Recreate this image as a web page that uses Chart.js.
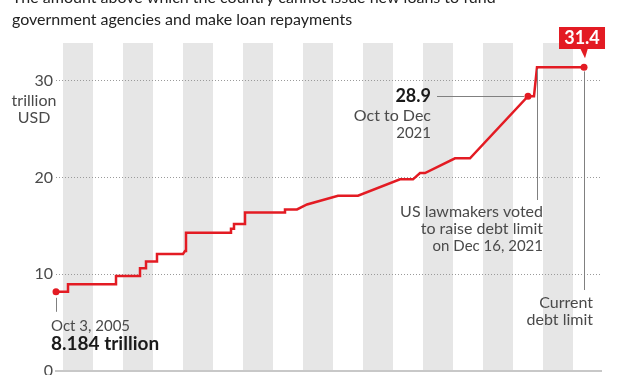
<!DOCTYPE html>
<html>
<head>
<meta charset="utf-8">
<script src="https://cdn.jsdelivr.net/npm/chart.js@4/dist/chart.umd.min.js"></script>
<style>
    html, body { margin: 0; padding: 0; background: #fff; }
</style>
</head>
<body>
<canvas id="graficoDeuda" width="625" height="375"></canvas>
<script>
// Limite de deuda de EE.UU., billones de USD (fechas en anos decimales)
const fechas = [2005.767, 2006.167, 2006.167, 2007.767, 2007.767, 2008.567, 2008.567, 2008.767, 2008.767,
    2009.133, 2009.133, 2010.0, 2010.067, 2010.1, 2010.1, 2011.6, 2011.6, 2011.7, 2011.7, 2012.067, 2012.067,
    2013.4, 2013.4, 2013.8, 2014.133, 2015.167, 2015.833, 2017.233, 2017.667, 2017.9, 2018.067, 2019.067,
    2019.567, 2021.5, 2021.7, 2021.8, 2023.367];
const limite = [8.184, 8.184, 8.965, 8.965, 9.815, 9.815, 10.615, 10.615, 11.315,
    11.315, 12.104, 12.104, 12.394, 12.394, 14.294, 14.294, 14.694, 14.694, 15.194, 15.194, 16.394,
    16.394, 16.699, 16.699, 17.212, 18.113, 18.113, 19.809, 19.809, 20.456, 20.456, 21.988,
    21.988, 28.4, 28.4, 31.381, 31.381];
const puntosMarcados = [0, 33, 36];
const bandasAnos = [2006, 2008, 2010, 2012, 2014, 2016, 2018, 2020, 2022];
const ticksY = [0, 10, 20, 30];
const titulo = ['The amount above which the country cannot issue new loans to fund',
    'government agencies and make loan repayments'];

const ROJO = '#e31b23';
const GRIS = '#4a4a4a';
const FUENTE = 'Lato';

// Bandas grises detras y anotaciones encima
const anotaciones = {
    id: 'anotaciones',
    beforeDraw(chart) {
        const { ctx, chartArea, scales: { x } } = chart;
        ctx.save();
        ctx.fillStyle = '#e6e6e6';
        bandasAnos.forEach(a => {
            const x0 = x.getPixelForValue(a);
            const x1 = x.getPixelForValue(a + 1);
            ctx.fillRect(x0, chartArea.top, x1 - x0, chartArea.bottom - chartArea.top);
        });
        ctx.restore();
    },
    afterDraw(chart) {
        const { ctx, scales: { x, y } } = chart;
        const px = i => x.getPixelForValue(fechas[i]);
        const py = i => y.getPixelForValue(limite[i]);
        const texto = (t, tx, ty, font, color, align) => {
            ctx.font = font;
            ctx.fillStyle = color;
            ctx.textAlign = align;
            ctx.fillText(t, tx, ty);
        };
        const linea = (x0, y0, x1, y1) => {
            ctx.beginPath();
            ctx.moveTo(x0, y0);
            ctx.lineTo(x1, y1);
            ctx.stroke();
        };
        ctx.save();
        ctx.textBaseline = 'alphabetic';

        // titulo (la primera linea queda cortada arriba)
        texto(titulo[0], 12, 3, '16px ' + FUENTE, '#222', 'left');
        texto(titulo[1], 12, 25, '16px ' + FUENTE, '#222', 'left');

        // unidad del eje
        texto('trillion', 34, 106, '16px ' + FUENTE, GRIS, 'center');
        texto('USD', 34, 123, '16px ' + FUENTE, GRIS, 'center');

        ctx.strokeStyle = '#808080';
        ctx.lineWidth = 1;

        // inicio
        const x0 = Math.round(px(0)) + 0.5;
        linea(x0, py(0) + 6, x0, py(0) + 20);
        texto('Oct 3, 2005', 51, 331, '15px ' + FUENTE, GRIS, 'left');
        texto('8.184 trillion', 51, 350, 'bold 19px ' + FUENTE, '#1a1a1a', 'left');

        // 28.9
        linea(437, Math.round(py(33)) + 0.5, px(33) - 4, Math.round(py(33)) + 0.5);
        texto('28.9', 431, 102, 'bold 18px ' + FUENTE, '#1a1a1a', 'right');
        texto('Oct to Dec', 431, 121, '16px ' + FUENTE, GRIS, 'right');
        texto('2021', 431, 138, '15px ' + FUENTE, GRIS, 'right');

        // votacion del congreso
        const xv = Math.round(px(35)) + 0.5;
        linea(xv, py(35) + 2, xv, 200);
        texto('US lawmakers voted', 543, 217, '16px ' + FUENTE, GRIS, 'right');
        texto('to raise debt limit', 543, 234, '16px ' + FUENTE, GRIS, 'right');
        texto('on Dec 16, 2021', 543, 251, '15px ' + FUENTE, GRIS, 'right');

        // limite actual
        const xa = Math.round(px(36)) + 0.5;
        linea(xa, py(36) + 4, xa, 290);
        texto('Current', 593, 308, '16px ' + FUENTE, GRIS, 'right');
        texto('debt limit', 593, 325, '16px ' + FUENTE, GRIS, 'right');

        // etiqueta roja 31.4
        const cx = px(36);
        ctx.fillStyle = ROJO;
        ctx.fillRect(cx - 25, 27, 46, 22);
        ctx.beginPath();
        ctx.moveTo(cx - 4, 48);
        ctx.lineTo(cx + 4, 48);
        ctx.lineTo(cx + 1, py(36) - 9);
        ctx.closePath();
        ctx.fill();
        texto('31.4', cx - 2, 44, 'bold 18px ' + FUENTE, '#fff', 'center');

        ctx.restore();
    }
};

const ctx = document.getElementById('graficoDeuda').getContext('2d');
new Chart(ctx, {
    type: 'line',
    data: {
        datasets: [{
            data: fechas.map((f, i) => ({ x: f, y: limite[i] })),
            borderColor: ROJO,
            backgroundColor: ROJO,
            borderWidth: 2.5,
            borderJoinStyle: 'miter',
            pointRadius: c => puntosMarcados.includes(c.dataIndex) ? 3.5 : 0,
            pointBorderWidth: 0,
            tension: 0,
            clip: false
        }]
    },
    options: {
        responsive: false,
        animation: false,
        devicePixelRatio: 1,
        layout: { padding: { left: 0, top: 43, right: 24, bottom: 1.5 } },
        plugins: {
            legend: { display: false },
            tooltip: { enabled: false }
        },
        scales: {
            x: {
                type: 'linear',
                min: 2005.7667,
                max: 2023.9333,
                ticks: { display: false },
                grid: { display: false, drawTicks: false },
                border: { display: true, color: '#c8c8c8', width: 2 }
            },
            y: {
                min: 0,
                max: 33.9,
                afterBuildTicks: s => { s.ticks = ticksY.map(v => ({ value: v })); },
                afterFit: s => { s.width = 56; s.paddingTop = 0; s.paddingBottom = 0; },
                ticks: { padding: 3, color: GRIS, font: { family: FUENTE, size: 16 } },
                grid: {
                    drawTicks: false,
                    lineWidth: 1,
                    color: c => (c.tick && c.tick.value === 0) ? 'rgba(0,0,0,0)' : '#9a9a9a'
                },
                border: { display: false, dash: [1, 2] }
            }
        }
    },
    plugins: [anotaciones]
});
</script>
</body>
</html>
